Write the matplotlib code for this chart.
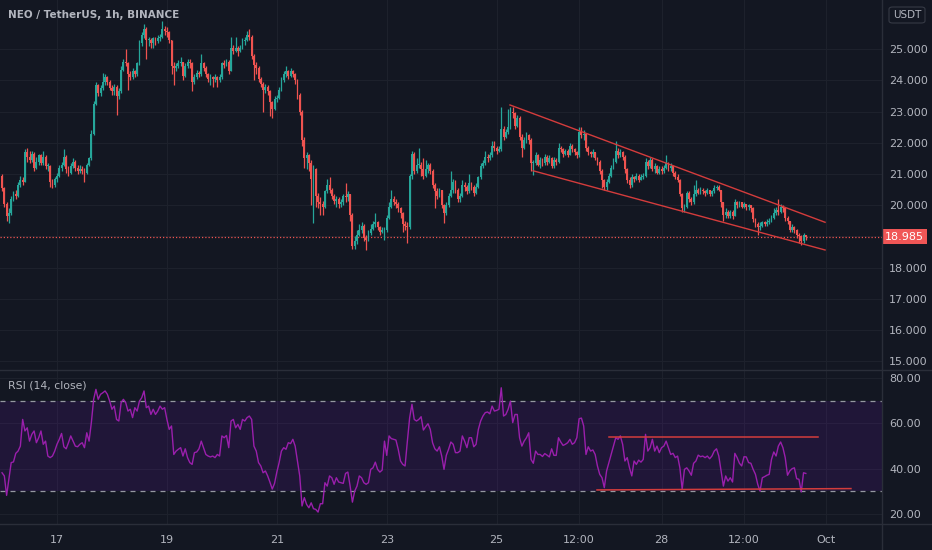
import matplotlib
matplotlib.use("Agg")
import matplotlib.pyplot as plt
import numpy as np
from matplotlib.lines import Line2D
from matplotlib.patches import Rectangle, FancyBboxPatch
from matplotlib.transforms import blended_transform_factory

# hourly bars, x = hours since 17 Sep 00:00 (first bar is 16 Sep 00:00)
first_hour = -24
first_open = 20.95

closes = [
    20.55, 20.05, 19.65, 19.75, 20.2, 20.35, 20.3, 20.65, 20.8, 20.75, 21.7, 21.55,
    21.45, 21.65, 21.2, 21.4, 21.6, 21.35, 21.55, 21.25, 21.25, 20.75, 20.65, 20.85,
    20.95, 21.2, 21.3, 21.55, 21.15, 21.05, 21.25, 21.4, 21.2, 21.1, 21.15, 21.1,
    21.05, 21.3, 21.5, 22.3, 23.25, 23.85, 23.6, 23.75, 23.95, 24.1, 23.95, 23.75,
    23.65, 23.8, 23.5, 23.65, 24.35, 24.6, 24.55, 24.2, 24.1, 24.3, 24.2, 24.55,
    25.2, 25.45, 25.65, 25.3, 25.3, 25.2, 25.35, 25.25, 25.35, 25.4, 25.65, 25.6,
    25.55, 25.3, 24.45, 24.4, 24.45, 24.55, 24.6, 24.15, 24.45, 24.6, 24.55, 23.95,
    24.1, 24.25, 24.2, 24.55, 24.4, 24.2, 24.05, 24.1, 24.05, 24.1, 24.0, 24.1,
    24.55, 24.5, 24.6, 24.3, 25.05, 24.95, 25.05, 24.95, 25.05, 25.25, 25.3, 25.45,
    25.4, 24.8, 24.5, 24.4, 24.05, 23.9, 23.7, 23.8, 23.65, 23.3, 23.1, 23.4,
    23.45, 23.7, 24.0, 24.2, 24.3, 24.15, 24.3, 24.2, 24.0, 23.55, 23.0, 22.1,
    21.5, 21.6, 21.35, 20.85, 21.15, 20.3, 20.1, 20.05, 19.95, 20.45, 20.65, 20.5,
    20.3, 20.15, 20.2, 20.05, 20.1, 20.3, 20.25, 20.35, 19.7, 18.7, 18.85, 19.05,
    19.2, 19.35, 18.95, 18.9, 19.1, 19.25, 19.4, 19.45, 19.3, 19.15, 19.2, 19.2,
    19.6, 19.95, 20.2, 20.1, 20.05, 19.9, 19.75, 19.4, 19.35, 19.3, 20.95, 21.65,
    21.1, 21.3, 21.3, 21.15, 20.95, 21.15, 21.3, 21.1, 20.65, 20.45, 20.3, 20.5,
    20.0, 19.75, 20.0, 20.3, 20.5, 20.75, 20.5, 20.2, 20.3, 20.65, 20.6, 20.45,
    20.7, 20.6, 20.4, 20.6, 20.9, 21.25, 21.35, 21.55, 21.5, 21.6, 21.9, 21.85,
    21.75, 21.8, 22.45, 22.2, 22.35, 22.5, 23.0, 22.95, 22.55, 22.8, 22.2, 21.85,
    22.1, 22.25, 22.1, 21.35, 21.35, 21.6, 21.3, 21.45, 21.35, 21.55, 21.4, 21.5,
    21.25, 21.45, 21.4, 21.85, 21.8, 21.65, 21.75, 21.6, 21.9, 21.8, 21.7, 21.6,
    22.35, 22.25, 22.3, 21.85, 21.7, 21.65, 21.7, 21.5, 21.4, 21.1, 20.8, 20.6,
    20.75, 20.95, 21.2, 21.4, 21.75, 21.6, 21.7, 21.55, 21.15, 20.8, 20.65, 20.9,
    20.85, 20.95, 20.8, 20.9, 20.95, 21.4, 21.25, 21.45, 21.15, 21.25, 21.05, 21.15,
    21.1, 21.2, 21.35, 21.2, 21.25, 21.05, 20.9, 20.8, 20.35, 19.9, 19.95, 20.4,
    20.2, 20.1, 20.35, 20.5, 20.4, 20.5, 20.45, 20.4, 20.5, 20.35, 20.45, 20.55,
    20.6, 20.5, 20.1, 19.7, 19.8, 19.65, 19.8, 19.65, 20.1, 20.0, 20.1, 19.95,
    20.05, 19.95, 20.0, 19.9, 19.55, 19.4, 19.3, 19.35, 19.45, 19.4, 19.45, 19.5,
    19.6, 19.75, 19.85, 19.8, 19.95, 19.9, 19.6, 19.5, 19.2, 19.3, 19.2, 19.05,
    19.0, 18.85, 19.05, 18.985,
]

highs = [
    21.0, 20.6, 20.1, 19.9, 20.3, 20.45, 20.5, 20.75, 20.95, 20.9, 21.8, 21.85,
    21.75, 21.75, 21.7, 21.55, 21.65, 21.65, 21.75, 21.6, 21.35, 21.3, 20.85, 20.9,
    21.05, 21.3, 21.4, 21.8, 21.6, 21.25, 21.35, 21.5, 21.45, 21.3, 21.3, 21.25,
    21.2, 21.35, 21.55, 22.4, 23.35, 23.95, 23.9, 23.85, 24.25, 24.2, 24.15, 24.0,
    23.85, 23.9, 23.85, 23.75, 24.45, 24.7, 25.0, 24.6, 24.3, 24.4, 24.35, 24.6,
    25.3, 25.55, 25.8, 25.7, 25.4, 25.35, 25.4, 25.4, 25.45, 25.5, 25.9, 25.75,
    25.7, 25.6, 25.3, 24.6, 24.55, 24.65, 24.75, 24.6, 24.55, 24.7, 24.7, 24.6,
    24.2, 24.35, 24.3, 24.85, 24.6, 24.45, 24.25, 24.2, 24.15, 24.2, 24.15, 24.2,
    24.6, 24.65, 24.7, 24.65, 25.4, 25.15, 25.4, 25.1, 25.15, 25.35, 25.4, 25.6,
    25.65, 25.45, 24.85, 24.6, 24.45, 24.1, 23.95, 23.9, 23.85, 23.7, 23.35, 23.5,
    23.55, 23.8, 24.1, 24.3, 24.45, 24.35, 24.4, 24.35, 24.25, 24.05, 23.6, 23.05,
    22.2, 21.7, 21.65, 21.45, 21.3, 21.2, 20.4, 20.25, 20.15, 20.5, 20.85, 20.9,
    20.55, 20.35, 20.3, 20.25, 20.2, 20.35, 20.7, 20.45, 20.35, 19.75, 19.0, 19.2,
    19.4, 19.45, 19.4, 19.05, 19.2, 19.4, 19.5, 19.75, 19.5, 19.35, 19.3, 19.3,
    19.7, 20.1, 20.5, 20.3, 20.2, 20.1, 19.95, 19.8, 19.5, 19.45, 21.0, 21.75,
    21.7, 21.5, 21.85, 21.4, 21.5, 21.45, 21.35, 21.35, 21.15, 20.7, 20.55, 20.55,
    20.5, 20.05, 20.1, 20.4, 21.1, 20.85, 20.8, 20.55, 20.4, 20.8, 20.75, 20.65,
    21.0, 20.75, 20.65, 20.7, 20.95, 21.35, 21.45, 21.75, 21.65, 21.7, 22.05, 22.05,
    21.9, 21.9, 23.15, 22.55, 22.45, 23.1, 23.15, 23.15, 23.0, 22.9, 22.85, 22.3,
    22.2, 22.35, 22.3, 22.15, 21.45, 21.7, 21.65, 21.55, 21.5, 21.65, 21.6, 21.6,
    21.55, 21.55, 21.5, 22.0, 21.9, 21.85, 21.8, 21.8, 22.0, 21.95, 21.85, 21.75,
    22.5, 22.5, 22.4, 22.3, 21.9, 21.75, 21.8, 21.7, 21.55, 21.45, 21.15, 20.85,
    20.85, 21.05, 21.3, 21.5, 22.05, 21.85, 21.8, 21.75, 21.6, 21.2, 20.9, 21.0,
    20.95, 21.05, 21.0, 21.0, 21.05, 21.5, 21.45, 21.55, 21.5, 21.35, 21.3, 21.25,
    21.25, 21.3, 21.6, 21.4, 21.35, 21.3, 21.1, 21.0, 20.85, 20.4, 20.05, 20.45,
    20.45, 20.25, 20.65, 20.8, 20.55, 20.6, 20.55, 20.5, 20.55, 20.5, 20.5, 20.65,
    20.65, 20.65, 20.5, 20.1, 19.9, 19.85, 19.85, 19.85, 20.2, 20.15, 20.15, 20.1,
    20.1, 20.05, 20.05, 20.0, 19.95, 19.6, 19.45, 19.45, 19.5, 19.5, 19.55, 19.6,
    19.7, 19.9, 19.95, 20.2, 20.05, 20.0, 19.9, 19.65, 19.5, 19.4, 19.35, 19.25,
    19.1, 19.05, 19.1, 19.05,
]

lows = [
    20.45, 19.95, 19.5, 19.42, 19.7, 20.15, 20.2, 20.25, 20.6, 20.65, 20.75, 21.4,
    21.35, 21.4, 21.1, 21.15, 21.3, 21.3, 21.3, 21.15, 21.1, 20.6, 20.55, 20.6,
    20.75, 20.9, 21.1, 21.25, 21.05, 20.95, 21.0, 21.2, 21.1, 21.0, 21.05, 21.0,
    20.75, 21.0, 21.25, 21.45, 22.25, 23.2, 23.5, 23.5, 23.7, 23.85, 23.85, 23.7,
    23.55, 23.55, 22.9, 23.4, 23.6, 24.3, 24.45, 23.7, 24.0, 24.05, 24.1, 24.15,
    24.5, 25.1, 25.35, 24.7, 25.1, 25.03, 25.05, 25.15, 25.2, 25.25, 25.35, 25.45,
    25.4, 25.2, 24.2, 23.85, 24.3, 24.4, 24.45, 24.0, 24.1, 24.4, 24.4, 23.65,
    23.9, 24.05, 24.1, 24.15, 24.3, 24.1, 23.95, 23.85, 23.8, 23.95, 23.8, 23.95,
    24.05, 24.4, 24.45, 24.2, 24.3, 24.85, 24.9, 24.8, 24.9, 25.0, 25.15, 25.25,
    25.3, 24.7, 24.0, 24.2, 23.95, 23.8, 22.98, 23.6, 23.55, 22.85, 22.8, 23.05,
    23.3, 23.4, 23.65, 23.95, 24.1, 24.05, 24.1, 24.1, 23.9, 23.4, 22.9, 21.9,
    21.2, 21.15, 21.1, 20.0, 19.42, 19.95, 19.9, 19.7, 19.7, 19.9, 20.4, 20.4,
    20.2, 20.05, 19.95, 19.9, 19.95, 20.0, 20.1, 20.15, 19.5, 18.6, 18.6, 18.75,
    19.0, 19.1, 18.85, 18.57, 18.85, 19.05, 19.2, 19.3, 19.2, 19.05, 19.1, 18.9,
    19.15, 19.55, 19.9, 20.0, 19.9, 19.8, 19.6, 19.15, 19.2, 18.78, 19.25, 20.85,
    21.0, 21.05, 21.2, 20.95, 20.85, 20.9, 21.05, 21.0, 20.55, 19.9, 20.2, 20.25,
    19.9, 19.42, 19.7, 19.95, 20.25, 20.4, 20.4, 20.1, 20.1, 20.25, 20.45, 20.35,
    20.4, 20.5, 20.3, 20.35, 20.55, 20.85, 21.2, 21.3, 21.4, 21.45, 21.55, 21.75,
    21.65, 21.7, 21.75, 22.1, 22.15, 22.3, 22.45, 22.8, 22.45, 22.5, 22.1, 21.55,
    21.8, 22.0, 21.95, 21.1, 20.97, 21.3, 21.25, 21.2, 21.25, 21.3, 21.3, 21.35,
    21.2, 21.2, 21.3, 21.35, 21.7, 21.55, 21.6, 21.55, 21.6, 21.7, 21.6, 21.5,
    21.55, 22.15, 22.1, 21.75, 21.6, 21.55, 21.55, 21.45, 21.3, 21.0, 20.55, 20.5,
    20.5, 20.7, 20.9, 21.15, 21.35, 21.5, 21.55, 21.45, 21.05, 20.7, 20.55, 20.6,
    20.75, 20.8, 20.75, 20.8, 20.85, 20.9, 21.15, 21.2, 21.1, 21.05, 21.0, 21.0,
    21.0, 21.05, 21.15, 21.1, 21.1, 20.95, 20.85, 20.75, 20.3, 19.8, 19.8, 19.9,
    20.1, 20.0, 20.05, 20.3, 20.35, 20.35, 20.35, 20.3, 20.35, 20.3, 20.3, 20.4,
    20.5, 20.45, 19.95, 19.5, 19.6, 19.6, 19.6, 19.55, 19.65, 19.9, 19.95, 19.9,
    19.9, 19.85, 19.85, 19.8, 19.45, 19.3, 19.05, 19.2, 19.3, 19.35, 19.35, 19.4,
    19.45, 19.55, 19.7, 19.7, 19.75, 19.8, 19.5, 19.4, 19.15, 19.15, 19.1, 18.95,
    18.8, 18.73, 18.8, 18.9,
]

rsi = [
    38.2, 36.8, 28.2, 35.3, 42.7, 43.0, 46.8, 47.8, 50.0, 61.8, 56.7, 58.1,
    52.2, 55.2, 56.7, 51.5, 53.7, 56.7, 50.8, 52.2, 45.6, 44.9, 45.6, 47.8,
    50.8, 53.0, 55.6, 49.7, 48.8, 51.5, 54.5, 52.2, 50.0, 49.7, 50.8, 51.5,
    49.3, 55.9, 52.2, 60.4, 70.7, 75.1, 70.7, 72.9, 73.6, 74.4, 72.9, 69.9,
    66.3, 67.7, 61.8, 61.1, 69.2, 70.7, 69.2, 65.5, 66.3, 62.6, 67.0, 65.5,
    69.9, 71.4, 74.4, 67.0, 67.7, 64.0, 66.3, 64.0, 65.5, 67.7, 66.3, 67.0,
    61.8, 57.4, 58.9, 46.3, 47.8, 48.6, 49.3, 45.6, 48.8, 44.9, 42.7, 41.9,
    47.1, 47.4, 48.8, 52.2, 49.3, 46.3, 45.6, 45.2, 45.6, 44.9, 46.3, 45.6,
    54.5, 53.7, 54.7, 49.3, 61.1, 61.8, 58.1, 59.6, 57.4, 61.8, 61.1, 62.6,
    63.3, 61.8, 50.0, 47.8, 42.7, 41.2, 38.2, 39.0, 36.8, 34.0, 31.0, 33.5,
    38.5, 42.7, 47.8, 49.3, 48.6, 51.5, 51.1, 53.0, 50.0, 43.4, 36.8, 23.5,
    27.2, 24.2, 22.7, 24.9, 22.3, 22.0, 20.8, 24.5, 24.5, 33.8, 32.3, 36.8,
    36.0, 33.1, 36.0, 34.1, 33.8, 33.5, 37.9, 38.5, 32.3, 25.2, 30.1, 32.3,
    36.8, 36.0, 33.8, 33.1, 33.8, 39.7, 40.4, 42.9, 39.7, 38.5, 39.4, 52.2,
    45.9, 54.5, 53.3, 53.0, 52.7, 48.6, 43.4, 41.9, 41.2, 52.2, 62.6, 68.5,
    61.8, 61.1, 61.8, 63.0, 57.1, 58.6, 59.9, 57.4, 51.5, 48.8, 47.8, 49.7,
    45.6, 39.7, 45.9, 48.6, 51.8, 50.8, 47.1, 47.1, 47.8, 54.5, 52.2, 49.3,
    53.7, 53.7, 49.7, 50.8, 57.4, 61.1, 63.3, 64.8, 65.1, 64.3, 67.7, 65.5,
    65.8, 66.3, 75.8, 63.3, 64.0, 66.3, 69.9, 60.4, 64.0, 64.0, 53.7, 50.0,
    52.2, 53.7, 55.9, 44.1, 42.4, 47.8, 46.3, 46.3, 45.4, 46.7, 46.0, 45.2,
    48.8, 45.9, 45.9, 53.7, 51.8, 50.3, 50.8, 51.5, 53.0, 50.8, 51.5, 53.7,
    62.1, 62.4, 58.9, 46.3, 49.7, 47.8, 48.3, 46.3, 41.2, 37.5, 36.0, 31.6,
    39.0, 42.7, 46.3, 50.0, 53.7, 53.0, 54.5, 50.8, 43.4, 44.9, 40.4, 36.8,
    43.4, 41.9, 43.8, 42.9, 44.1, 55.2, 47.8, 49.3, 53.0, 47.8, 50.0, 47.1,
    49.3, 50.0, 52.2, 49.3, 46.3, 46.8, 44.9, 45.6, 40.4, 30.9, 39.7, 40.4,
    39.0, 37.1, 42.4, 43.4, 46.0, 45.3, 45.6, 44.9, 45.6, 44.4, 45.6, 47.8,
    48.8, 45.6, 39.0, 32.3, 36.8, 34.5, 36.0, 34.1, 46.8, 44.9, 42.4, 41.2,
    45.3, 45.2, 42.7, 42.4, 39.7, 37.5, 33.1, 30.1, 36.0, 36.5, 37.1, 37.5,
    44.1, 47.4, 45.6, 50.0, 51.8, 49.3, 44.9, 37.1, 39.0, 40.0, 40.4, 35.6,
    35.3, 29.7, 38.2, 37.9,
]

tick_hours = [0, 48, 96, 144, 192, 228, 264, 300, 336]
tick_labels = ["17", "19", "21", "23", "25", "12:00", "28", "12:00", "Oct"]
price_ticks = [15, 16, 17, 18, 19, 20, 21, 22, 23, 24, 25]
rsi_ticks = [20, 40, 60, 80]
rsi_bands = [30, 70]

# drawings (hour, value)
channel_upper = [(197.8, 23.215), (335.4, 19.455)]
channel_lower = [(207.9, 21.106), (335.4, 18.567)]
rsi_resistance = [(241.0, 54.0), (332.3, 54.0)]
rsi_support = [(235.8, 30.6), (346.7, 31.2)]

BG = "#131722"
GRID = "#1d212c"
TXT = "#b2b5be"
UP = "#26a69a"
DOWN = "#ef5350"
DRAW = "#d43c3c"

plt.rcParams["font.family"] = "DejaVu Sans"

W, H = 932, 550
fig = plt.figure(figsize=(W / 100, H / 100), dpi=100, facecolor=BG)
right = 882 / W
ax = fig.add_axes([0, 1 - 370 / H, right, 370 / H], facecolor=BG)
ax_r = fig.add_axes([0, 26 / H, right, 154 / H], facecolor=BG, sharex=ax)

n = len(closes)
x = np.arange(first_hour, first_hour + n)
c = np.array(closes)
o = np.concatenate([[first_open], c[:-1]])
hi = np.array(highs)
lo = np.array(lows)
up = c >= o
cols = np.where(up, UP, DOWN)

ax.vlines(x, lo, hi, colors=cols, linewidth=0.9, zorder=3)
body = np.maximum(np.abs(c - o), 0.03)
ax.bar(x, body, bottom=np.minimum(o, c), width=0.8, color=cols,
       linewidth=0, zorder=4)

for pts in (channel_upper, channel_lower):
    ax.plot([p[0] for p in pts], [p[1] for p in pts], color=DRAW, lw=1.0, zorder=5)

last = closes[-1]
ax.axhline(last, color=DOWN, lw=0.9, ls=(0, (1, 1.6)), zorder=2)

ax.set_xlim(-57 / 2.29, 825 / 2.29)
ax.set_ylim(14.72, 26.58)
ax.set_yticks(price_ticks)
# the 19.000 label sits under the last-price tag
ax.set_yticklabels(["" if v == 19 else f"{v:.3f}" for v in price_ticks])
ax.set_xticks(tick_hours)
ax.tick_params(axis="x", labelbottom=False, length=0)

# RSI panel
ax_r.axhspan(rsi_bands[0], rsi_bands[1], color="#9915ff", alpha=0.1, lw=0, zorder=1)
for b in rsi_bands:
    ax_r.axhline(b, color="#9598a1", lw=0.9, ls=(0, (4, 4)), zorder=2)
ax_r.plot(x, rsi, color="#9a1fac", lw=1.0, zorder=4)
for pts in (rsi_resistance, rsi_support):
    ax_r.plot([p[0] for p in pts], [p[1] for p in pts], color=DRAW, lw=1.1, zorder=5)
ax_r.set_ylim(15.53, 83.67)
ax_r.set_yticks(rsi_ticks)
ax_r.set_yticklabels([f"{v:.2f}" for v in rsi_ticks])
ax_r.set_xticks(tick_hours)
ax_r.set_xticklabels(tick_labels)

for a in (ax, ax_r):
    a.yaxis.tick_right()
    a.grid(True, color=GRID, lw=0.8, zorder=0)
    a.set_axisbelow(True)
    for s in a.spines.values():
        s.set_visible(False)
    a.tick_params(axis="y", length=0, pad=5, labelsize=8, labelcolor=TXT)
ax_r.tick_params(axis="x", length=0, pad=8, labelsize=8, labelcolor=TXT)

# panel separators
sep = "#2a2e39"
for yy in (370, 524):
    fig.add_artist(Line2D([0, 1], [1 - yy / H] * 2, color=sep, lw=1))
fig.add_artist(Line2D([right, right], [0, 1], color=sep, lw=1))

# last price tag
tr = blended_transform_factory(fig.transFigure, ax.transData)
ax.add_patch(Rectangle((right, last - 0.24), 45 / W, 0.48, transform=tr,
                       facecolor="#f05656", edgecolor="none", clip_on=False, zorder=6))
ax.text(904 / W, last, f"{last:.3f}", transform=tr, ha="center", va="center",
        color="white", fontsize=8, zorder=7)

# currency box
fig.add_artist(FancyBboxPatch((889 / W, 1 - 23 / H), 36 / W, 16 / H,
                              boxstyle="round,pad=0,rounding_size=0.004",
                              transform=fig.transFigure, facecolor=BG,
                              edgecolor="#363a45", lw=0.8))
fig.text(907 / W, 1 - 15 / H, "USDT", ha="center", va="center", color=TXT, fontsize=7.5)

fig.text(8 / W, 1 - 15 / H, "NEO / TetherUS, 1h, BINANCE", ha="left", va="center",
         color=TXT, fontsize=7.5, fontweight="bold")
fig.text(8 / W, 1 - 386 / H, "RSI (14, close)", ha="left", va="center",
         color=TXT, fontsize=7.8)

fig.savefig("out.png", dpi=100, facecolor=BG)
